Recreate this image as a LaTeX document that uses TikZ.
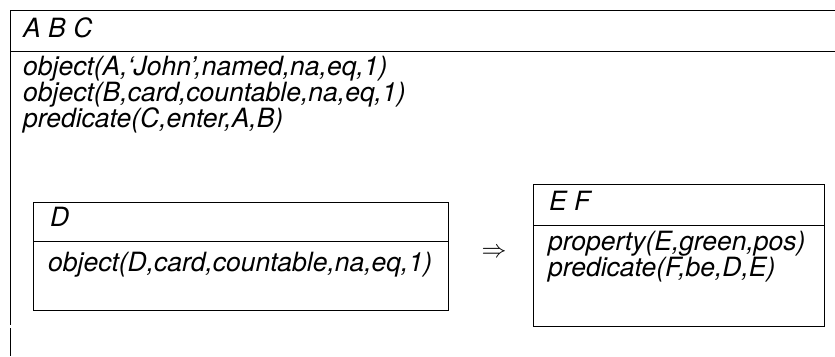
\documentclass[tikz,border=0pt]{standalone}
\usepackage{fontspec}
\setmainfont{TeX Gyre Heros}
\begin{document}
\begin{tikzpicture}[x=1pt,y=-1pt,
  frame/.style={line width=0.8pt},
  txt/.style={anchor=base west,inner sep=0pt,font=\fontsize{26.5}{28}\selectfont\itshape}]
\useasboundingbox (0,0) rectangle (835,356);
% outer box: open on the right and at the bottom, its left rule broken once
\draw[frame] (835,10) -- (10,10) -- (10,325);
\draw[frame] (10,328) -- (10,356);
\draw[frame] (10,51) -- (835,51);
\node[txt] (head) at (23,37) {A B C};
\node[txt] (l1) at (23,75) {object(A,`John',named,na,eq,1)};
\node[txt] (l2) at (23,101) {object(B,card,countable,na,eq,1)};
\node[txt] (l3) at (23,127) {predicate(C,enter,A,B)};
% left inner box
\draw[frame] (33,202) rectangle (448,310);
\draw[frame] (33,241) -- (448,241);
\node[txt] (dhead) at (50,226) {D};
\node[txt] (dbody) at (48,271) {object(D,card,countable,na,eq,1)};
% implication
\node[inner sep=0pt,font=\fontsize{26.5}{28}\selectfont] (imp) at (494,253) {$\Rightarrow$};
% right inner box
\draw[frame] (533,184) rectangle (824,326);
\draw[frame] (533,225) -- (824,225);
\node[txt] (efhead) at (549,210) {E F};
\node[txt] (ef1) at (548,250) {property(E,green,pos)};
\node[txt] (ef2) at (548,276) {predicate(F,be,D,E)};
\end{tikzpicture}
\end{document}
